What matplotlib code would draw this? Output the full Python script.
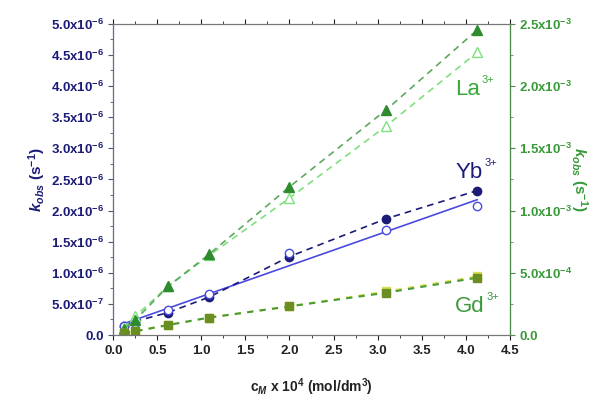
import matplotlib.pyplot as plt
import numpy as np
from matplotlib.ticker import MultipleLocator, FuncFormatter

plt.rcParams['font.family'] = ['Liberation Sans', 'DejaVu Sans']
plt.rcParams['mathtext.fontset'] = 'custom'
plt.rcParams['mathtext.rm'] = 'Liberation Sans:bold'
plt.rcParams['mathtext.bf'] = 'Liberation Sans:bold'
plt.rcParams['mathtext.it'] = 'Liberation Sans:italic:bold'

# concentration c_M x 10^4 (mol/dm3)
conc = [0.12, 0.25, 0.62, 1.09, 2.0, 3.1, 4.13]

# Yb3+ (left axis, s^-1)
yb_filled = [0.15e-6, 0.22e-6, 0.36e-6, 0.61e-6, 1.26e-6, 1.87e-6, 2.32e-6]
yb_open = [0.14e-6, 0.20e-6, 0.40e-6, 0.66e-6, 1.32e-6, 1.68e-6, 2.07e-6]

# La3+ (right axis, s^-1)
la_filled = [0.05e-3, 0.12e-3, 0.39e-3, 0.65e-3, 1.19e-3, 1.81e-3, 2.45e-3]
la_open = [0.06e-3, 0.15e-3, 0.39e-3, 0.64e-3, 1.10e-3, 1.68e-3, 2.27e-3]

# Gd3+ (right axis, s^-1)
gd_filled = [0.02e-3, 0.03e-3, 0.08e-3, 0.14e-3, 0.23e-3, 0.34e-3, 0.46e-3]
gd_open = [0.02e-3, 0.03e-3, 0.08e-3, 0.14e-3, 0.23e-3, 0.35e-3, 0.47e-3]

ions = ['La', 'Yb', 'Gd']
ion_colors = ['#3aa83a', '#1c1c78', '#3a9a3a']
ion_pos = [(3.88, 3.86e-6), (3.89, 2.52e-6), (3.88, 0.37e-6)]

navy = '#1c1c78'
blue = '#4a4ae0'
dgreen = '#2e8b2e'
lgreen = '#7ee07e'
olive = '#6b8e23'
yel = '#d8e050'


def sci(v, pos):
    if v == 0:
        return '0.0'
    e = int(np.floor(np.log10(abs(v))))
    m = v / 10 ** e
    return '%.1fx10$^{%d}$' % (m, e)


fig = plt.figure(figsize=(6.09, 4), dpi=100)
ax = fig.add_axes([0.186, 0.1625, 0.651, 0.778])
ax2 = ax.twinx()

# Yb on left axis
ax.plot(conc, yb_filled, '--', color=navy, lw=1.2, marker='o', ms=6, dashes=(4, 3), zorder=3)
ax.plot(conc, yb_open, 'o', mfc='white', mec=blue, ms=6, zorder=3)
fit = np.polyfit(conc, yb_open, 1)
xf = np.array([conc[0], conc[-1]])
ax.plot(xf, np.polyval(fit, xf), '-', color=blue, lw=1.2)

# La and Gd on right axis
ax2.plot(conc, la_open, '--', color=lgreen, lw=1.2, marker='^', mfc='white', mec=lgreen, ms=7, dashes=(4, 3))
ax2.plot(conc, la_filled, '--', color='#5fa85f', lw=1.2, marker='^', mfc=dgreen, mec=dgreen, ms=7, dashes=(4, 3))
ax2.plot(conc, gd_open, '--', color=yel, lw=1.5, marker='s', mfc=yel, mec=yel, ms=6, dashes=(3, 3))
ax2.plot(conc, gd_filled, '--', color='#4a9a3a', lw=1.5, marker='s', mfc=olive, mec=olive, ms=6, dashes=(3, 3))

ax.set_xlim(0, 4.5)
ax.set_ylim(0, 5e-6)
ax2.set_ylim(0, 2.5e-3)

ax.xaxis.set_major_locator(MultipleLocator(0.5))
ax.xaxis.set_minor_locator(MultipleLocator(0.25))
ax.yaxis.set_major_locator(MultipleLocator(5e-7))
ax.yaxis.set_minor_locator(MultipleLocator(2.5e-7))
ax2.yaxis.set_major_locator(MultipleLocator(5e-4))
ax2.yaxis.set_minor_locator(MultipleLocator(2.5e-4))
ax.yaxis.set_major_formatter(FuncFormatter(sci))
ax2.yaxis.set_major_formatter(FuncFormatter(sci))
ax.xaxis.set_major_formatter(FuncFormatter(lambda v, p: '%.1f' % v))

ax.tick_params(axis='x', which='both', top=True, direction='out', labelsize=9.5, colors='#222222')
ax.tick_params(axis='y', which='both', labelsize=9.5, labelcolor=navy, color='#555577')
ax2.tick_params(axis='y', which='both', labelsize=9.5, labelcolor='#3a9a3a', color='#558855')
for lab in ax.get_xticklabels() + ax.get_yticklabels() + ax2.get_yticklabels():
    lab.set_fontweight('bold')

for s in ['top', 'bottom']:
    ax.spines[s].set_color('#777777')
    ax2.spines[s].set_color('#777777')
ax2.spines['left'].set_color('#6666aa')
ax2.spines['right'].set_color('#4a8a4a')

ax.set_ylabel(r'$k_{obs}$ (s$^{-1}$)', color=navy, fontsize=11, fontweight='bold', labelpad=2)
ax2.set_ylabel(r'$k_{obs}$ (s$^{-1}$)', color='#3a9a3a', fontsize=11, fontweight='bold',
               rotation=-90, labelpad=12)
ax.set_xlabel(r'c$_{M}$ x 10$^{4}$ (mol/dm$^{3}$)', fontsize=10, fontweight='bold',
              color='#222222', labelpad=14)

# ion labels with small superscript charge
for name, c, (px, py) in zip(ions, ion_colors, ion_pos):
    t = ax.text(px, py, name, color=c, fontsize=16)
    ax.annotate('3+', xy=(1, 1), xycoords=t, xytext=(1, 3), textcoords='offset points',
                ha='left', va='top', color=c, fontsize=8)

fig.savefig('out.png', dpi=100)
